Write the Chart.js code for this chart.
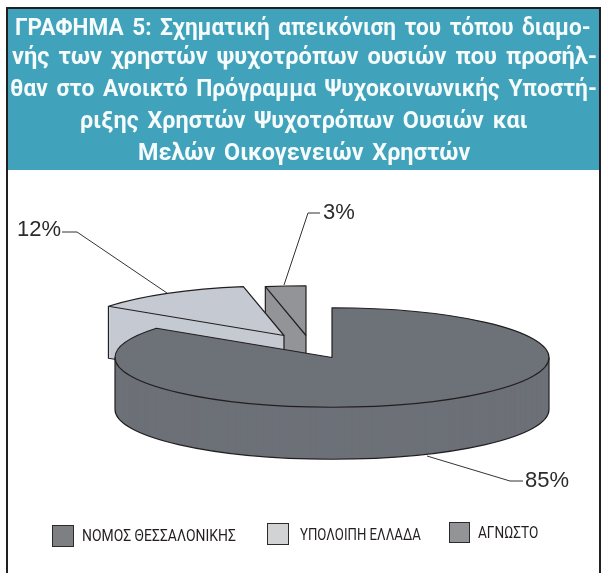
<!DOCTYPE html>
<html lang="el"><head><meta charset="utf-8">
<style>
html,body{margin:0;padding:0;background:#fff;width:605px;height:573px;overflow:hidden}
#frame{position:absolute;left:6px;top:7px;width:595px;height:570px;border:2px solid #231f20;box-sizing:border-box}
#bar{position:absolute;left:8px;top:9px;width:591px;height:161px;background:#40a3bb}
.fit{position:absolute;white-space:nowrap;transform-origin:0 50%;display:inline-block}
.t{color:#f6fbfc;font:bold 23px Roboto,"Liberation Sans",sans-serif;line-height:30px;word-spacing:3px}
.l{color:#231f20;font:17px Roboto,"Liberation Sans",sans-serif;line-height:18px}
.box{position:absolute;box-sizing:border-box;border:1.5px solid #2b2b2b}
canvas{position:absolute;left:0;top:0}
</style></head><body>
<div id="frame"></div><div id="bar"></div>
<canvas id="c" width="605" height="573"></canvas>
<div id="texts"></div>
<script src="https://cdn.jsdelivr.net/npm/chart.js@4/dist/chart.umd.min.js"></script>
<script>
const categories=["ΝΟΜΟΣ ΘΕΣΣΑΛΟΝΙΚΗΣ","ΥΠΟΛΟΙΠΗ ΕΛΛΑΔΑ","ΑΓΝΩΣΤΟ"];
const percentValues=[85,12,3];
const titleLines=["ΓΡΑΦΗΜΑ 5: Σχηματική απεικόνιση του τόπου διαμο-","νής των χρηστών ψυχοτρόπων ουσιών που προσήλ-","θαν στο Ανοικτό Πρόγραμμα Ψυχοκοινωνικής Υποστή-","ριξης Χρηστών Ψυχοτρόπων Ουσιών και","Μελών Οικογενειών Χρηστών"];
const sliceColors=["#6d7178","#c5cad2","#929497"];
const legendColors=["#7d7f82","#d1d3d4","#929497"];
const explodeX=[0,-48,-26];
const explodeY=[0,-22,-22];
const drawOrder=[2,1,0];
const labelAnchors=[
  {line:[[427,456],[510,481],[523,481]],x:525,y:481},
  {line:[[167,293],[77,232],[62,232]],x:17,y:230},
  {line:[[284,285],[308,213],[320,213]],x:323,y:213}
];
const titleBoxes=[[15,576,13],[12,585,42],[10,587,74],[80,448,106],[138,332,138]];
const legendBoxes=[[52,525,22,22],[267,523,22,22],[449,522,21,21]];
const legendTexts=[[82,154,526],[300,121,525],[478,60,523]];
const CX=332,CY=357.5,SQUASH=50/218,DEPTH=52,EDGE="#231f20";

const host=document.getElementById("texts");
function addFit(text,cls,x,w,y){
  const s=document.createElement("span");
  s.className="fit "+cls;s.textContent=text;s.style.left=x+"px";s.style.top=y+"px";
  host.appendChild(s);
  s.style.transform="scaleX("+(w/s.offsetWidth)+")";
}
function buildTexts(){
  titleLines.forEach((t,i)=>addFit(t,"t",titleBoxes[i][0],titleBoxes[i][1],titleBoxes[i][2]));
  categories.forEach((t,i)=>{
    const b=document.createElement("div"),g=legendBoxes[i];
    b.className="box";b.style.cssText="left:"+g[0]+"px;top:"+g[1]+"px;width:"+g[2]+"px;height:"+g[3]+"px;background:"+legendColors[i];
    host.appendChild(b);
    addFit(t,"l",legendTexts[i][0],legendTexts[i][1],legendTexts[i][2]);
  });
}
buildTexts();
if(document.fonts&&document.fonts.ready)document.fonts.ready.then(()=>{host.innerHTML="";buildTexts();});

const pie3d={
  id:"pie3d",
  beforeDatasetDraw(chart,args){
    const ctx=chart.ctx,arcs=args.meta.data;
    const pt=(a,ang,ox,oy,d)=>[CX+ox+Math.cos(ang)*a.outerRadius,CY+oy+d+Math.sin(ang)*a.outerRadius*SQUASH];
    drawOrder.forEach(i=>{
      const a=arcs[i],ox=explodeX[i],oy=explodeY[i],R=a.outerRadius,ax=CX+ox,ay=CY+oy;
      for(let d=DEPTH;d>=0;d-=0.5){
        ctx.save();
        ctx.translate(ax,ay+d);ctx.scale(1,SQUASH);ctx.translate(-a.x,-a.y);
        a.draw(ctx);
        ctx.restore();
      }
      ctx.save();
      ctx.strokeStyle=EDGE;ctx.lineWidth=1.2;ctx.lineJoin="round";
      ctx.beginPath();
      ctx.moveTo(ax,ay);
      ctx.ellipse(ax,ay,R,R*SQUASH,0,a.startAngle,a.endAngle);
      ctx.closePath();ctx.stroke();
      ctx.beginPath();
      if(i===0){
        ctx.ellipse(ax,ay+DEPTH,R,R*SQUASH,0,0,Math.PI);
        ctx.moveTo(ax+R,ay);ctx.lineTo(ax+R,ay+DEPTH);
        ctx.moveTo(ax-R,ay);ctx.lineTo(ax-R,ay+DEPTH);
      }else{
        const s=pt(a,a.startAngle,ox,oy,0);
        ctx.moveTo(s[0],s[1]);ctx.lineTo(s[0],s[1]+DEPTH);ctx.lineTo(ax,ay+DEPTH);ctx.lineTo(ax,ay);
      }
      ctx.stroke();
      ctx.restore();
    });
    ctx.save();
    ctx.strokeStyle="#333";ctx.lineWidth=1;ctx.fillStyle="#2b2b2b";
    ctx.font='22px "Liberation Sans",Arial,sans-serif';ctx.textBaseline="middle";
    labelAnchors.forEach((l,i)=>{
      ctx.beginPath();
      l.line.forEach((p,k)=>k?ctx.lineTo(p[0],p[1]):ctx.moveTo(p[0],p[1]));
      ctx.stroke();
      ctx.fillText(percentValues[i]+"%",l.x,l.y);
    });
    ctx.restore();
    return false;
  }
};

new Chart(document.getElementById("c"),{
  type:"pie",
  data:{labels:categories,datasets:[{data:percentValues,backgroundColor:sliceColors,borderWidth:0,radius:217}]},
  plugins:[pie3d],
  options:{
    responsive:false,animation:false,events:[],
    plugins:{title:{display:false},tooltip:{enabled:false},legend:{display:false}}
  }
});
</script></body></html>
